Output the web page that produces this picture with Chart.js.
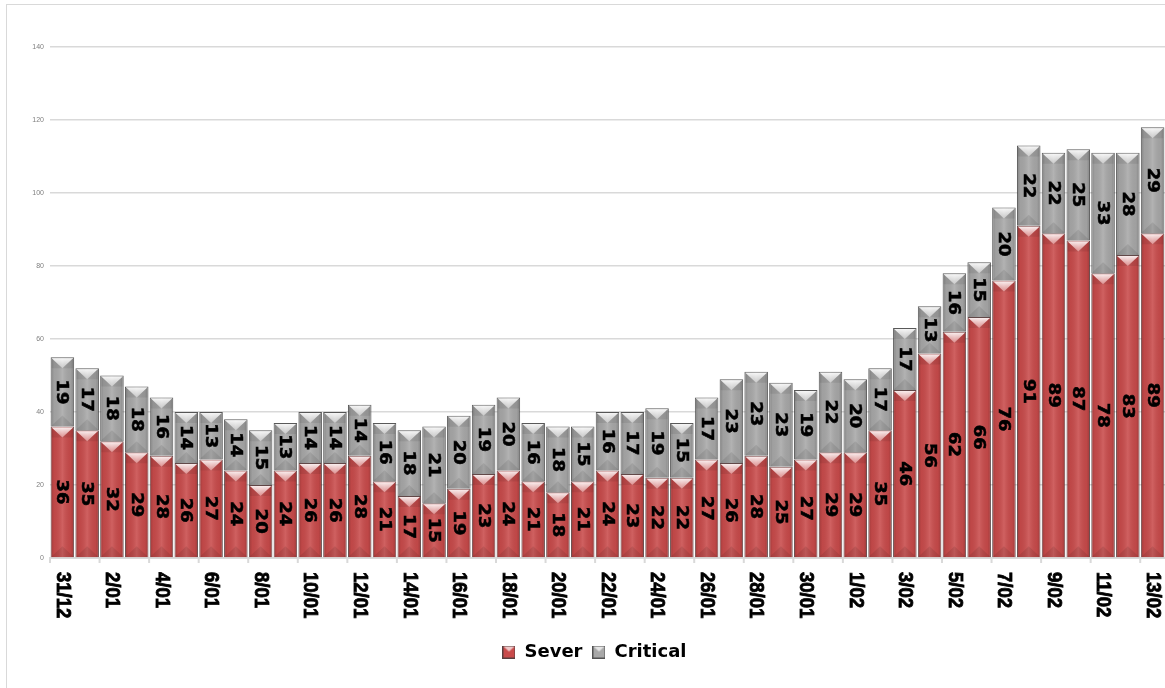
<!DOCTYPE html>
<html>
<head>
<meta charset="utf-8">
<script src="https://cdn.jsdelivr.net/npm/chart.js@4.4.1/dist/chart.umd.min.js"></script>
<style>
  html, body { margin: 0; padding: 0; background: #fff; }
  #wrap { width: 1165px; height: 688px; position: relative; }
</style>
</head>
<body>
<div id="wrap"><canvas id="chart" width="1165" height="688"></canvas></div>
<script>
const labels = ["31/12","1/01","2/01","3/01","4/01","5/01","6/01","7/01","8/01","9/01","10/01","11/01","12/01","13/01","14/01","15/01","16/01","17/01","18/01","19/01","20/01","21/01","22/01","23/01","24/01","25/01","26/01","27/01","28/01","29/01","30/01","31/01","1/02","2/02","3/02","4/02","5/02","6/02","7/02","8/02","9/02","10/02","11/02","12/02","13/02"];
const sever = [36,35,32,29,28,26,27,24,20,24,26,26,28,21,17,15,19,23,24,21,18,21,24,23,22,22,27,26,28,25,27,29,29,35,46,56,62,66,76,91,89,87,78,83,89];
const critical = [19,17,18,18,16,14,13,14,15,13,14,14,14,16,18,21,20,19,20,16,18,15,16,17,19,15,17,23,23,23,19,22,20,17,17,13,16,15,20,22,22,25,33,28,29];
const yTicks = [0,20,40,60,80,100,120,140];

// small legend swatch with the bevel look
function swatch(base) {
  const c = document.createElement("canvas");
  c.width = 13; c.height = 13;
  const g = c.getContext("2d");
  g.fillStyle = base; g.fillRect(0, 0, 13, 13);
  g.fillStyle = "rgba(255,255,255,0.7)";
  g.beginPath(); g.moveTo(1, 1); g.lineTo(12, 1); g.lineTo(6.5, 6); g.closePath(); g.fill();
  g.strokeStyle = "rgba(60,60,60,0.8)"; g.strokeRect(0.5, 0.5, 12, 12);
  return c;
}

const bevelPlugin = {
  id: "bevel",
  beforeDraw(chart) {
    const ctx = chart.ctx;
    ctx.save();
    ctx.strokeStyle = "#d9d9d9";
    ctx.lineWidth = 1;
    ctx.strokeRect(6.5, 4.5, 1200, 700);
    ctx.restore();
  },
  afterDatasetsDraw(chart) {
    const ctx = chart.ctx;
    chart.data.datasets.forEach((ds, di) => {
      const meta = chart.getDatasetMeta(di);
      meta.data.forEach((bar) => {
        const p = bar.getProps(["x", "y", "base", "width"], true);
        const l = p.x - p.width / 2, r = p.x + p.width / 2;
        const t = Math.min(p.y, p.base), b = Math.max(p.y, p.base);
        const h = b - t;
        ctx.save();
        ctx.beginPath(); ctx.rect(l + 1, t + 1, r - l - 2, h - 1); ctx.clip();
        // cylinder shading
        const gr = ctx.createLinearGradient(l, 0, r, 0);
        gr.addColorStop(0, "rgba(0,0,0,0.22)");
        gr.addColorStop(0.15, "rgba(0,0,0,0.05)");
        gr.addColorStop(0.5, "rgba(255,255,255,0.12)");
        gr.addColorStop(0.85, "rgba(0,0,0,0.05)");
        gr.addColorStop(1, "rgba(0,0,0,0.22)");
        ctx.fillStyle = gr;
        ctx.fillRect(l, t, r - l, h);
        // top bevel
        const bh = Math.min(11, h / 2);
        const tg = ctx.createLinearGradient(0, t, 0, t + bh);
        tg.addColorStop(0, "rgba(255,255,255,0.95)");
        tg.addColorStop(1, "rgba(255,255,255,0.3)");
        ctx.fillStyle = tg;
        ctx.beginPath(); ctx.moveTo(l, t); ctx.lineTo(r, t); ctx.lineTo(p.x, t + bh); ctx.closePath(); ctx.fill();
        ctx.fillStyle = "rgba(0,0,0,0.08)";
        ctx.beginPath(); ctx.moveTo(l, t); ctx.lineTo(p.x, t + bh); ctx.lineTo(l, t + bh); ctx.closePath(); ctx.fill();
        ctx.beginPath(); ctx.moveTo(r, t); ctx.lineTo(p.x, t + bh); ctx.lineTo(r, t + bh); ctx.closePath(); ctx.fill();
        // bottom bevel
        ctx.fillStyle = "rgba(0,0,0,0.09)";
        ctx.beginPath(); ctx.moveTo(l, b); ctx.lineTo(r, b); ctx.lineTo(p.x, b - bh); ctx.closePath(); ctx.fill();
        ctx.restore();
      });
    });
    // value labels, rotated to read top to bottom
    ctx.save();
    ctx.fillStyle = "#000";
    ctx.strokeStyle = "#000";
    ctx.lineWidth = 0.6;
    ctx.font = "bold 18px 'DejaVu Sans'";
    ctx.textAlign = "center";
    ctx.textBaseline = "middle";
    chart.data.datasets.forEach((ds, di) => {
      const meta = chart.getDatasetMeta(di);
      meta.data.forEach((bar, i) => {
        const p = bar.getProps(["x", "y", "base"], true);
        ctx.save();
        ctx.translate(p.x, (p.y + p.base) / 2);
        ctx.rotate(Math.PI / 2);
        ctx.scale(1, 0.88);
        ctx.fillText(String(ds.data[i]), 0, 1);
        ctx.strokeText(String(ds.data[i]), 0, 1);
        ctx.restore();
      });
    });
    ctx.restore();
  },
  afterDraw(chart) {
    const ctx = chart.ctx;
    const xs = chart.scales.x;
    const area = chart.chartArea;
    const step = (area.right - area.left) / labels.length;
    ctx.save();
    // tick marks every two categories
    ctx.strokeStyle = "#d9d9d9";
    ctx.lineWidth = 2;
    for (let i = 0; i < labels.length; i += 2) {
      const x = xs.getPixelForValue(i) - step / 2;
      ctx.beginPath(); ctx.moveTo(x, area.bottom); ctx.lineTo(x, area.bottom + 5); ctx.stroke();
    }
    // category labels
    ctx.fillStyle = "#000";
    ctx.strokeStyle = "#000";
    ctx.lineWidth = 0.7;
    ctx.font = "bold 18px 'Liberation Sans'";
    ctx.textAlign = "left";
    ctx.textBaseline = "middle";
    for (let i = 0; i < labels.length; i += 2) {
      ctx.save();
      ctx.translate(xs.getPixelForValue(i), area.bottom + 14);
      ctx.rotate(Math.PI / 2);
      ctx.scale(1.03, 1.15);
      ctx.fillText(labels[i], 0, 0);
      ctx.strokeText(labels[i], 0, 0);
      ctx.restore();
    }
    ctx.restore();
  }
};

const ctx = document.getElementById("chart").getContext("2d");
new Chart(ctx, {
  type: "bar",
  data: {
    labels: labels,
    datasets: [
      {
        label: "Sever",
        data: sever,
        backgroundColor: "#c94b4b",
        borderColor: "rgba(70,40,40,0.85)",
        borderWidth: 1,
        barPercentage: 0.95,
        categoryPercentage: 1,
        pointStyle: swatch("#c94b4b")
      },
      {
        label: "Critical",
        data: critical,
        backgroundColor: "#a8a8a8",
        borderColor: "rgba(60,60,60,0.85)",
        borderWidth: 1,
        barPercentage: 0.95,
        categoryPercentage: 1,
        pointStyle: swatch("#a8a8a8")
      }
    ]
  },
  options: {
    responsive: false,
    animation: false,
    layout: { padding: { top: 47, right: 0, bottom: 17, left: 24 } },
    scales: {
      x: {
        stacked: true,
        grid: { display: false },
        border: { color: "#d9d9d9", width: 2 },
        ticks: { display: false },
        afterFit: (s) => { s.height = 75; }
      },
      y: {
        stacked: true,
        min: 0,
        max: 140,
        afterBuildTicks: (s) => { s.ticks = yTicks.map(v => ({ value: v })); },
        grid: { color: "#d9d9d9", lineWidth: 1.5, drawTicks: false },
        border: { display: false },
        ticks: {
          color: "#7f7f7f",
          font: { size: 7, family: "'Liberation Sans'" },
          padding: 6
        },
        afterFit: (s) => { s.width = 26; }
      }
    },
    plugins: {
      legend: {
        position: "bottom",
        labels: {
          usePointStyle: true,
          boxWidth: 13,
          boxHeight: 13,
          padding: 10,
          color: "#000",
          font: { size: 18, weight: "bold", family: "'DejaVu Sans'" }
        }
      },
      tooltip: { enabled: false }
    }
  },
  plugins: [bevelPlugin]
});
</script>
</body>
</html>
